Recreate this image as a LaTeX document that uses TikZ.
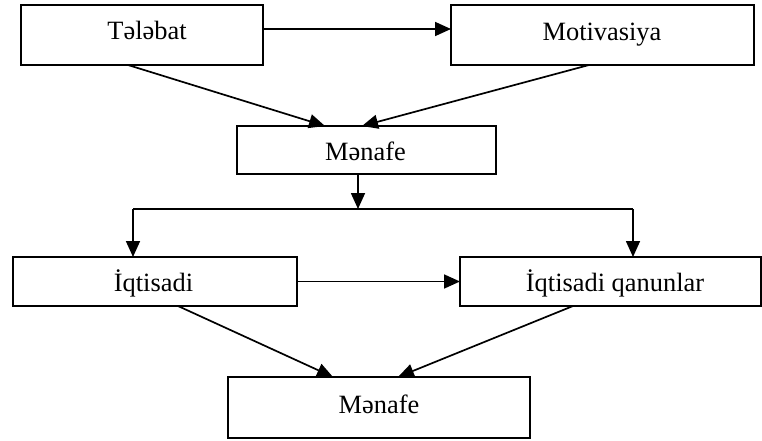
\documentclass[tikz,border=0pt]{standalone}
\usepackage{fontspec}
\setmainfont{Liberation Serif}
\usetikzlibrary{arrows.meta}
\begin{document}
\begin{tikzpicture}[x=1pt,y=-1pt,
  box/.style={draw,line width=1.7pt,rectangle,inner sep=0pt,outer sep=0pt},
  txt/.style={anchor=base,inner sep=0pt,font=\fontsize{26.4}{30}\selectfont},
  arr/.style={line width=1.7pt,-{Triangle[length=16pt,width=14pt]}},
  ln/.style={line width=1.7pt}]
\useasboundingbox (0,0) rectangle (762,441);
% boxes
\node[box,minimum width=242pt,minimum height=60pt] (b1) at (142,35) {};
\node[box,minimum width=303pt,minimum height=60pt] (b2) at (602.5,35) {};
\node[box,minimum width=259pt,minimum height=48pt] (b3) at (366.5,150) {};
\node[box,minimum width=284pt,minimum height=49pt] (b4) at (155,281.5) {};
\node[box,minimum width=301pt,minimum height=49pt] (b5) at (610.5,281.5) {};
\node[box,minimum width=302pt,minimum height=61pt] (b6) at (379,407.5) {};
% texts
\node[txt] (t1) at (147,40) {Tələbat};
\node[txt] (t2) at (602,40.5) {Motivasiya};
\node[txt] (t3) at (365.5,160) {Mənafe};
\node[txt] (t4) at (153.5,291.7) {İqtisadi};
\node[txt] (t5) at (615,291.7) {İqtisadi qanunlar};
\node[txt] (t6) at (379,413) {Mənafe};
% junction coordinates
\coordinate (m) at (358,209);
\coordinate (jl) at (133,209);
\coordinate (jr) at (633,209);
% connectors
\draw[arr] ([yshift=6pt]b1.east) -- ([yshift=6pt]b2.west);
\draw[arr] ([xshift=-14pt]b1.south) -- ([xshift=-41.5pt]b3.north);
\draw[arr] ([xshift=-13.5pt]b2.south) -- ([xshift=-4.5pt]b3.north);
\draw[arr] (b3.south -| m) -- (m);
\draw[ln] (jl) -- (jr);
\draw[arr] (jl) -- (b4.north -| jl);
\draw[arr] (jr) -- (b5.north -| jr);
\draw[arr] (b4.east) -- (b5.west);
\draw[arr] ([xshift=23pt]b4.south) -- ([xshift=-46pt]b6.north);
\draw[arr] ([xshift=-37.5pt]b5.south) -- ([xshift=19pt]b6.north);
\end{tikzpicture}
\end{document}
